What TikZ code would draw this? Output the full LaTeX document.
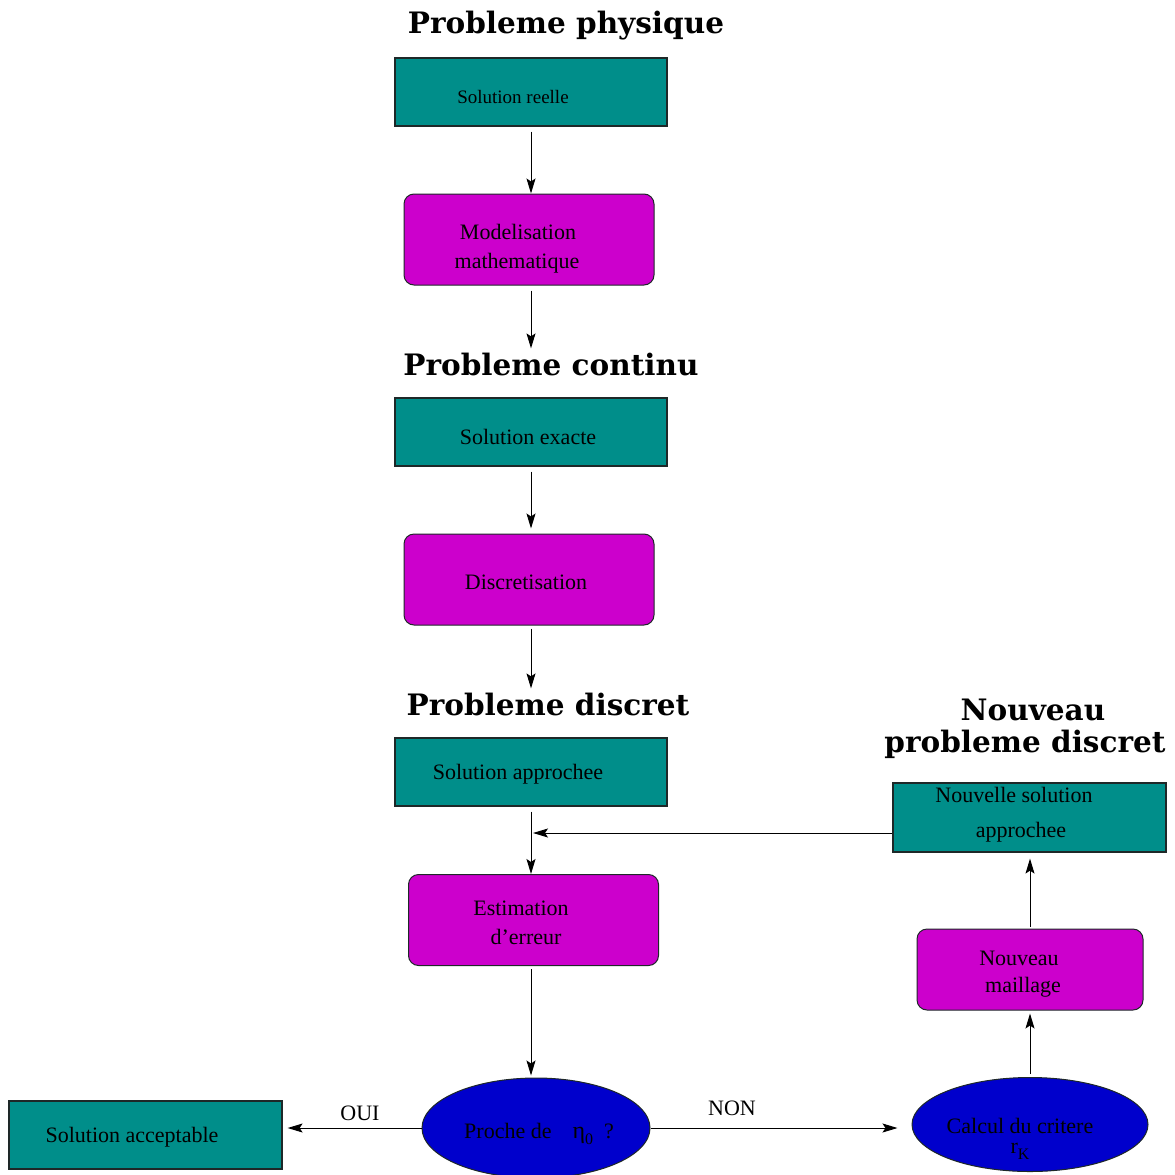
\documentclass[tikz,border=0pt]{standalone}
\usepackage{fontspec}
\setmainfont{Liberation Serif}
\newfontfamily\headfont{DejaVu Serif}
\usetikzlibrary{arrows.meta,shapes.geometric}
\definecolor{tealbox}{RGB}{0,142,138}
\definecolor{magbox}{RGB}{204,0,204}
\definecolor{blueell}{RGB}{0,0,204}
\definecolor{edge}{RGB}{30,40,40}
\newcommand{\subtxt}[1]{\raisebox{-6pt}{\fontsize{16}{18}\selectfont #1}}
\tikzset{
  sqbox/.style={draw=edge,line width=1.2pt,fill=tealbox,minimum width=272pt,minimum height=68pt,inner sep=0pt},
  rbox/.style={draw=edge,line width=1pt,fill=magbox,rounded corners=10pt,minimum width=250pt,minimum height=91pt,inner sep=0pt},
  ell/.style={draw=edge,line width=1pt,fill=blueell,ellipse,inner sep=0pt},
  txt/.style={anchor=base,font=\fontsize{22}{26}\selectfont,inner sep=0pt},
  smalltxt/.style={anchor=base,font=\fontsize{19}{22}\selectfont,inner sep=0pt},
  head/.style={anchor=base,font=\headfont\bfseries\fontsize{29.5}{34}\selectfont,inner sep=0pt},
  arr/.style={draw=black,line width=1pt,-{Stealth[length=15pt,width=9pt,inset=3pt]}},
}
\begin{document}
\begin{tikzpicture}[x=1pt,y=-1pt]
\useasboundingbox (0,0) rectangle (1175,1175);
% headers
\node[head] (h1) at (566,33) {Probleme physique};
\node[head] (h2) at (551,375) {Probleme continu};
\node[head] (h3) at (548,715) {Probleme discret};
\node[head] (h4a) at (1033,720) {Nouveau};
\node[head] (h4b) at (1025,752) {probleme discret};
% boxes
\node[sqbox] (sr) at (531,92) {};
\node[smalltxt] (sr-t) at (513,103) {Solution reelle};
\node[rbox] (mm) at (529,239.5) {};
\node[txt] (mm-t1) at (518,239) {Modelisation};
\node[txt] (mm-t2) at (517,268) {mathematique};
\node[sqbox] (se) at (531,432) {};
\node[txt] (se-t) at (528,444) {Solution exacte};
\node[rbox] (di) at (529,579.5) {};
\node[txt] (di-t) at (526,589) {Discretisation};
\node[sqbox] (sa) at (531,772) {};
\node[txt] (sa-t) at (518,779) {Solution approchee};
\node[rbox] (ee) at (533.5,920) {};
\node[txt] (ee-t1) at (521,915) {Estimation};
\node[txt] (ee-t2) at (526,944) {d’erreur};
\node[ell,minimum width=228pt,minimum height=100pt] (pr) at (536,1128) {};
\node[txt,anchor=base west] (pr-t) at (464,1138) {Proche de\hspace{21pt}{\fontsize{24}{26}\selectfont η}\subtxt{0}\hspace{11pt}?};
\node[sqbox,minimum width=273pt] (ac) at (145.5,1135) {};
\node[txt] (ac-t) at (132,1142) {Solution acceptable};
\node[ell,minimum width=236pt,minimum height=94pt] (cc) at (1030,1124.5) {};
\node[txt] (cc-t1) at (1020,1133) {Calcul du critere};
\node[txt] (cc-t2) at (1020,1153) {r\subtxt{K}};
\node[rbox,minimum width=226pt,minimum height=81pt] (nm) at (1030,969.5) {};
\node[txt] (nm-t1) at (1019,965) {Nouveau};
\node[txt] (nm-t2) at (1023,992) {maillage};
\node[sqbox,minimum width=273pt,minimum height=69pt] (ns) at (1029.5,817.5) {};
\node[txt] (ns-t1) at (1014,802) {Nouvelle solution};
\node[txt] (ns-t2) at (1021,837) {approchee};
% connectors
\draw[arr,shorten <=5pt] (sr.south -| 531,0) -- (mm.north -| 531,0);
\draw[arr,shorten <=5pt,shorten >=4pt] (mm.south -| 531,0) -- (h2.north -| 531,0);
\draw[arr,shorten <=5pt,shorten >=5pt] (se.south -| 531,0) -- (di.north -| 531,0);
\draw[arr,shorten <=3pt,shorten >=4pt] (di.south -| 531,0) -- (h3.north -| 531,0);
\draw[arr,shorten <=5pt] (sa.south -| 531,0) -- (ee.north -| 531,0);
\draw[arr,shorten <=3pt,shorten >=2pt] (ee.south -| 531,0) -- (pr.north -| 531,0);
\coordinate (join) at (533,833);
\draw[arr] (ns.west |- join) -- (join);
\draw[arr,shorten >=5pt] (pr.west) -- (ac.east |- pr.west);
\node[txt] (oui) at (360,1120) {OUI};
\draw[arr,shorten >=14pt] (pr.east) -- (cc.west |- pr.east);
\node[txt] (non) at (732,1115) {NON};
\draw[arr,shorten <=3pt,shorten >=3pt] (cc.north) -- (nm.south);
\draw[arr,shorten <=2pt,shorten >=6pt] (nm.north -| 1030,0) -- (ns.south -| 1030,0);
\end{tikzpicture}
\end{document}
